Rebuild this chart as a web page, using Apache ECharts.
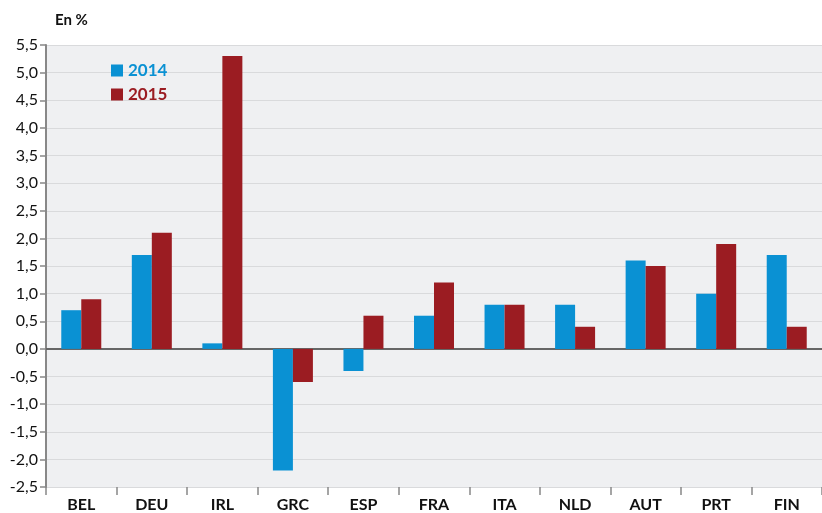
<!DOCTYPE html>
<html lang="fr">
<head>
    <meta charset="UTF-8">
    <title>En %</title>
    <style>
        html, body { margin: 0; padding: 0; background: #fff; }
        #chart { width: 822px; height: 513px; }
    </style>
</head>
<body>
<div id="chart"></div>
<script src="https://cdn.jsdelivr.net/npm/echarts@6/dist/echarts.min.js"></script>
<script>
    var pays = ['BEL', 'DEU', 'IRL', 'GRC', 'ESP', 'FRA', 'ITA', 'NLD', 'AUT', 'PRT', 'FIN'];
    var val2014 = [0.7, 1.7, 0.1, -2.2, -0.4, 0.6, 0.8, 0.8, 1.6, 1.0, 1.7];
    var val2015 = [0.9, 2.1, 5.3, -0.6, 0.6, 1.2, 0.8, 0.4, 1.5, 1.9, 0.4];

    var police = 'Lato, "Open Sans", sans-serif';
    var bleu = '#0a91d3';
    var rouge = '#9b1c22';

    var myChart = echarts.init(document.getElementById('chart'));
    myChart.setOption({
        animation: false,
        textStyle: { fontFamily: police },
        title: {
            text: 'En %',
            left: 50,
            top: 8,
            textStyle: { fontSize: 15, fontWeight: 'bold', color: '#111', fontFamily: police }
        },
        legend: {
            orient: 'vertical',
            left: 106,
            top: 57,
            itemWidth: 12,
            itemHeight: 12,
            itemGap: 7,
            icon: 'rect',
            textStyle: { fontSize: 17, fontWeight: 'bold', fontFamily: police, color: 'inherit' },
            data: ['2014', '2015']
        },
        grid: { left: 46, right: 0, top: 45, bottom: 26, backgroundColor: '#eff0f2', show: true, borderWidth: 0 },
        xAxis: [{
            type: 'category',
            data: pays,
            position: 'bottom',
            axisLine: { onZero: false, show: false },
            axisTick: { show: true, length: 8, lineStyle: { color: '#888', width: 1.5 } },
            axisLabel: { fontSize: 16, fontWeight: 'bold', color: '#111', margin: 10 }
        }, {
            type: 'category',
            data: pays,
            position: 'bottom',
            axisLine: { onZero: true, lineStyle: { color: '#666', width: 2 } },
            axisTick: { show: false },
            axisLabel: { show: false }
        }],
        yAxis: {
            type: 'value',
            min: -2.5,
            max: 5.5,
            interval: 0.5,
            axisLine: { show: true, lineStyle: { color: '#888', width: 2 } },
            axisTick: { show: true, length: 6, lineStyle: { color: '#888', width: 1.5 } },
            splitLine: { lineStyle: { color: '#d9dadc', width: 1 } },
            axisLabel: {
                fontSize: 16,
                color: '#111',
                margin: 8,
                formatter: function (v) { return v.toFixed(1).replace('.', ','); }
            }
        },
        series: [{
            name: '2014',
            type: 'bar',
            data: val2014,
            barWidth: 20,
            barGap: '0%',
            itemStyle: { color: bleu }
        }, {
            name: '2015',
            type: 'bar',
            data: val2015,
            barWidth: 20,
            barGap: '0%',
            itemStyle: { color: rouge }
        }]
    });
</script>
</body>
</html>
